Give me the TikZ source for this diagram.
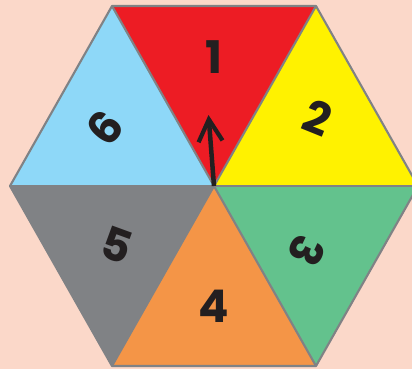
\documentclass[tikz,border=0pt]{standalone}
\usepackage{fontspec}
\setmainfont{Poppins}
\usepackage{xcolor}
\usepackage{tikz}
\usetikzlibrary{arrows.meta}
\definecolor{bgpeach}{HTML}{FBD8C9}
\definecolor{secred}{HTML}{ED1C24}
\definecolor{secyellow}{HTML}{FFF200}
\definecolor{secgreen}{HTML}{63C28D}
\definecolor{secorange}{HTML}{F49547}
\definecolor{secgray}{HTML}{808285}
\definecolor{secblue}{HTML}{8ED8F8}
\definecolor{ink}{HTML}{231F20}

\begin{document}
\begin{tikzpicture}[x=0.025cm, y=-0.025cm,
  edge/.style={draw=secgray, line width=1.5pt, line join=round},
  digit/.style={text=ink, inner sep=0pt, font=\fontsize{32}{32}\selectfont\bfseries},
  pointer/.style={-{Straight Barb[length=0.55cm, width=0.6cm, line width=3pt]}, line width=3.2pt, ink}]
\useasboundingbox (0,0) rectangle (412,369);
\clip (0,0) rectangle (412,369);
\fill[bgpeach] (0,0) rectangle (412,369);
% hexagon corners
\coordinate (c) at (214,186);
\coordinate (tl) at (112,6);
\coordinate (tr) at (316,6);
\coordinate (r) at (418,186);
\coordinate (br) at (316,366);
\coordinate (bl) at (112,366);
\coordinate (l) at (10,186);
% sectors
\fill[secred] (c) -- (tl) -- (tr) -- cycle;
\fill[secyellow] (c) -- (tr) -- (r) -- cycle;
\fill[secgreen] (c) -- (r) -- (br) -- cycle;
\fill[secorange] (c) -- (br) -- (bl) -- cycle;
\fill[secgray] (c) -- (bl) -- (l) -- cycle;
\fill[secblue] (c) -- (l) -- (tl) -- cycle;
\draw[edge] (tl) -- (tr) -- (r) -- (br) -- (bl) -- (l) -- cycle;
\draw[edge] (tl) -- (br);
\draw[edge] (tr) -- (bl);
\draw[edge] (l) -- (r);
% numbers
\node[digit] (n1) at (214,57) {1};
\node[digit, rotate=-22] (n2) at (318,118) {2};
\node[digit, rotate=-115] (n3) at (307,251) {3};
\node[digit] (n4) at (214,306) {4};
\node[digit, rotate=-20] (n5) at (117,245) {5};
\node[digit, rotate=50] (n6) at (105,128) {6};
% spinner
\coordinate (tip) at (208.5,115);
\draw[pointer] (c) -- (tip);
\end{tikzpicture}
\end{document}
